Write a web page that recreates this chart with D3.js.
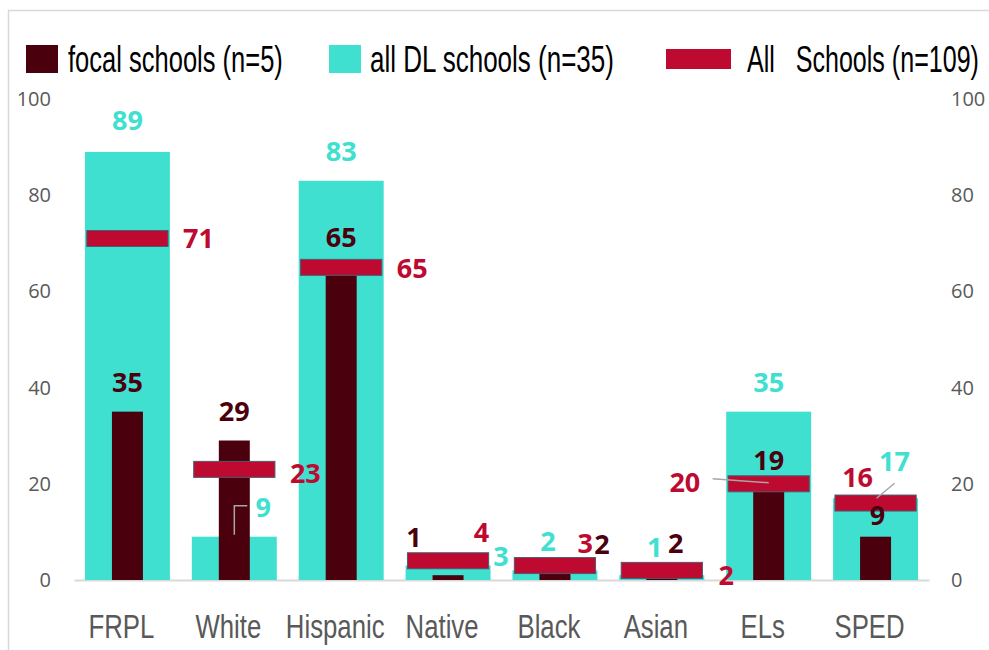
<!DOCTYPE html>
<html><head><meta charset="utf-8">
<script src="https://cdn.jsdelivr.net/npm/d3@7"></script>
<style>
html,body{margin:0;padding:0;background:#fff;}
svg{display:block;}
</style></head>
<body>
<svg id="chart" width="989" height="650"></svg>
<script>
// ---- data ----
const categories = ["FRPL","White","Hispanic","Native","Black","Asian","ELs","SPED"];
const focalSchools = [35,29,65,1,2,2,19,9];
const allDLSchools = [89,9,83,3,2,1,35,17];
const allSchools = [71,23,65,4,3,2,20,16];
const yTicks = [0,20,40,60,80,100];
const legendLabels = ["focal schools (n=5)","all DL schools (n=35)","All   Schools (n=109)"];

// ---- style ----
const C_DARK = "#4B000D", C_TEAL = "#40E0D0", C_RED = "#BE0A30", C_AXIS = "#595959";
const svg = d3.select("#chart");

// frame
svg.append("rect").attr("x",8.5).attr("y",10.5).attr("width",1000).attr("height",700)
  .attr("fill","none").attr("stroke","#d9d9d9").attr("stroke-width",1.5);

const x = d3.scaleBand().domain(categories).range([74,929]).padding(0);
const y = d3.scaleLinear().domain([0,100]).range([580,99]);
const bw = x.bandwidth();
const cx = c => x(c) + bw/2;

// axes
const yl = svg.append("g").attr("transform","translate(51,0)")
  .call(d3.axisLeft(y).tickValues(yTicks).tickSize(0).tickPadding(0));
const yr = svg.append("g").attr("transform","translate(951,0)")
  .call(d3.axisRight(y).tickValues(yTicks).tickSize(0).tickPadding(0));
[yl,yr].forEach(g=>{
  g.select(".domain").remove();
  g.selectAll("text").attr("fill",C_AXIS).style("font-family","'Open Sans', sans-serif").style("font-size","20px");
});

const xa = svg.append("g").attr("transform","translate(0,580)")
  .call(d3.axisBottom(x).tickSize(0).tickSizeOuter(0).tickPadding(0));
xa.select(".domain").attr("stroke","#d9d9d9").attr("stroke-width",2);
xa.selectAll("text").attr("fill",C_AXIS).attr("y",58).attr("dy",0)
  .attr("transform","translate(-6,0) scale(0.78,1)")
  .style("font-family","'Liberation Sans Narrow', 'Liberation Sans', sans-serif").style("font-size","33px");

// bars
const tw = bw*0.795, rw = bw*0.76, dw = bw*0.29, rh = 16;
svg.append("g").selectAll("rect").data(categories).join("rect")
  .attr("x",c=>cx(c)-tw/2).attr("width",tw)
  .attr("y",(c,i)=>y(allDLSchools[i])).attr("height",(c,i)=>y(0)-y(allDLSchools[i]))
  .attr("fill",C_TEAL);
svg.append("g").selectAll("rect").data(categories).join("rect")
  .attr("x",c=>cx(c)-dw/2).attr("width",dw)
  .attr("y",(c,i)=>y(focalSchools[i])).attr("height",(c,i)=>y(0)-y(focalSchools[i]))
  .attr("fill",C_DARK);
svg.append("g").selectAll("rect").data(categories).join("rect")
  .attr("x",c=>cx(c)-rw/2).attr("width",rw)
  .attr("y",(c,i)=>y(allSchools[i])-rh/2).attr("height",rh)
  .attr("fill",C_RED).attr("stroke","#4d5b70").attr("stroke-width",1);

// label nudges (dx, dy) relative to default placement
const tealNudge = [[0,-2],[29,0],[0,0],[53,20],[-7,0],[-7,1],[0,0],[19,-8]];
const darkNudge = [[0,0],[0,0],[0,-1],[-34,-9],[47,3],[14,2],[0,1],[2,8]];
const redNudge  = [[0,-1],[0,3],[0,0],[-30,-29],[-33,-23],[1,4],[-124,-2],[-89,-27]];

// leader lines
const lg = svg.append("g").attr("stroke","#a6a6a6").attr("stroke-width",1.5).attr("fill","none");
{
  const c = cx("White"), v = y(allDLSchools[1]);
  lg.append("path").attr("d",`M${c},${v-2}V${v-31}H${c+13}`);
}
{
  const c = cx("ELs"), v = y(allSchools[6]);
  lg.append("path").attr("d",`M${c-56},${v-5}L${c},${v-1}`);
}
{
  const c = cx("SPED"), v = y(allDLSchools[7]);
  lg.append("path").attr("d",`M${c+19},${v-15}L${c+1},${v}`);
}

const lblFont = "'Open Sans', sans-serif";
function labels(vals, nudge, color, mode){
  svg.append("g").selectAll("text").data(categories).join("text")
    .attr("x",(c,i)=> (mode==="red" ? cx(c)+rw/2+15 : cx(c)) + nudge[i][0])
    .attr("y",(c,i)=> (mode==="red" ? y(vals[i]) : y(vals[i])-30) + nudge[i][1])
    .attr("text-anchor", (c,i)=> mode==="red" ? (nudge[i][0]<-100 ? "end":"start") : "middle")
    .attr("dominant-baseline","central")
    .attr("fill",color)
    .style("font-family",lblFont).style("font-weight",700).style("font-size","27px")
    .text((c,i)=>vals[i]);
}
labels(allDLSchools, tealNudge, C_TEAL, "top");
labels(focalSchools, darkNudge, C_DARK, "top");
labels(allSchools, redNudge, C_RED, "red");

// legend
const legend = [
  {sw:[26,45,32,28], col:C_DARK, tx:68, tl:215},
  {sw:[329,45,32,28], col:C_TEAL, tx:370, tl:244},
  {sw:[666,49,65,20], col:C_RED, tx:747, tl:232}
];
const lgG = svg.append("g");
legend.forEach((d,i)=>{
  lgG.append("rect").attr("x",d.sw[0]).attr("y",d.sw[1]).attr("width",d.sw[2]).attr("height",d.sw[3]).attr("fill",d.col);
  const t = lgG.append("text").attr("x",0).attr("y",0)
    .attr("fill","#000").attr("xml:space","preserve").style("white-space","pre")
    .style("font-family","'Liberation Sans Narrow', 'Liberation Sans', sans-serif").style("font-size","37px")
    .text(legendLabels[i]);
  const w = t.node().getComputedTextLength();
  t.attr("transform",`translate(${d.tx},72) scale(${d.tl/w},1)`);
});
</script>
</body></html>
